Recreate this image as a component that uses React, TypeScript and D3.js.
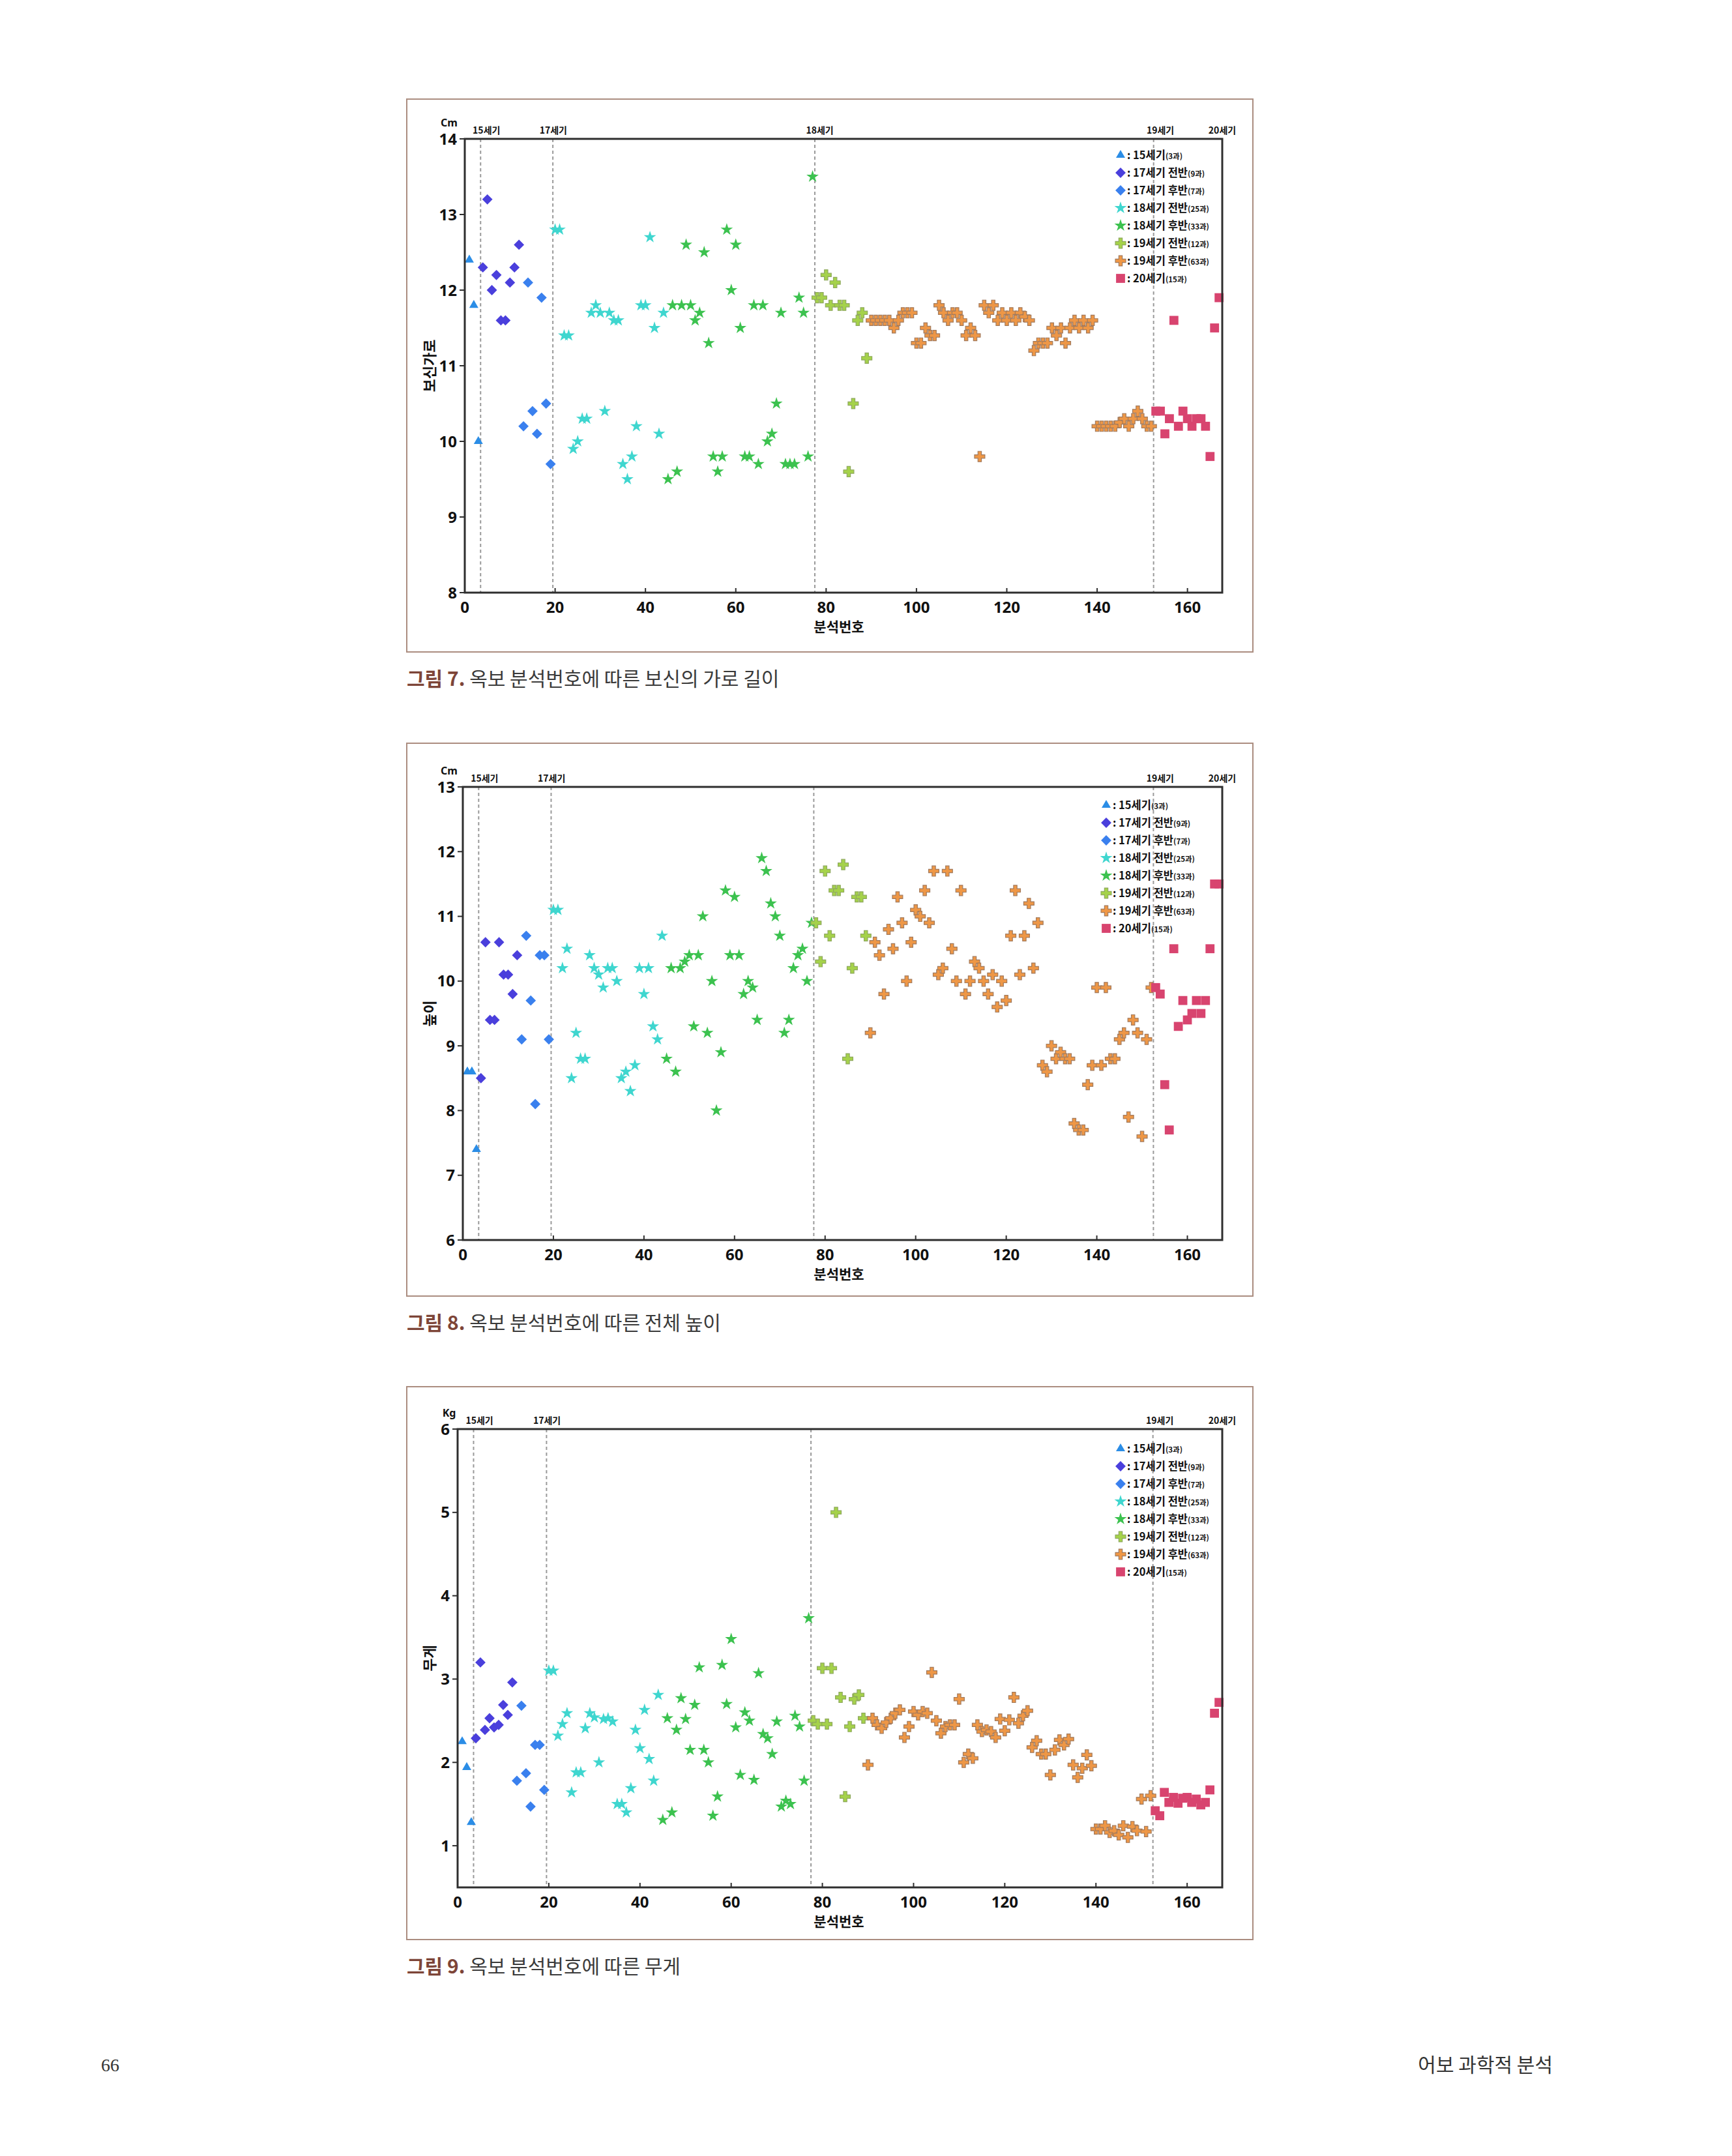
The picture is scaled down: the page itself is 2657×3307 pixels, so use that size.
import React from 'react';
import * as d3 from 'd3';

// period groups, in the order the samples are numbered
const groupLabels = ['15세기', '17세기 전반', '17세기 후반', '18세기 전반', '18세기 후반', '19세기 전반', '19세기 후반', '20세기'];
const groupCounts = [3, 9, 7, 25, 33, 12, 63, 15];
const groupColors = ['#2b8de6', '#4a3fdc', '#3a80ee', '#3fd6cf', '#3cc24f', '#a5d24a', '#ee9746', '#d8446f'];
const groupShapes = ['triangle', 'diamond', 'diamond', 'star', 'star', 'cross', 'cross', 'square'];

const centuryBreaks = [3.5, 19.5, 77.5, 152.5];
const centuryTags = ['15세기', '17세기', '18세기', '19세기', '20세기'];
const centuryTagAt = [4.8, 19.6, 78.6, 154, 167.7];
const xTicks = [0, 20, 40, 60, 80, 100, 120, 140, 160];

// 그림 7 : 보신 가로 (cm)
const widthValues = [
  12.4, 11.8, 10.0,
  12.3, 13.2, 12.0, 12.2, 11.6, 11.6, 12.1, 12.3, 12.6,
  10.2, 12.1, 10.4, 10.1, 11.9, 10.5, 9.7,
  12.8, 12.8, 11.4, 11.4, 9.9, 10.0, 10.3, 10.3, 11.7, 11.8, 11.7, 10.4, 11.7, 11.6, 11.6, 9.7, 9.5, 9.8, 10.2, 11.8, 11.8, 12.7, 11.5, 10.1, 11.7,
  9.5, 11.8, 9.6, 11.8, 12.6, 11.8, 11.6, 11.7, 12.5, 11.3, 9.8, 9.6, 9.8, 12.8, 12.0, 12.6, 11.5, 9.8, 9.8, 11.8, 9.7, 11.8, 10.0, 10.1, 10.5, 11.7, 9.7, 9.7, 9.7, 11.9, 11.7, 9.8, 13.5,
  11.9, 11.9, 12.2, 11.8, 12.1, 11.8, 11.8, 9.6, 10.5, 11.6, 11.7, 11.1,
  11.6, 11.6, 11.6, 11.6, 11.6, 11.5, 11.6, 11.7, 11.7, 11.7, 11.3, 11.3, 11.5, 11.4, 11.4, 11.8, 11.7, 11.6, 11.7, 11.7,
  11.6, 11.4, 11.5, 11.4, 9.8, 11.8, 11.7, 11.8, 11.6, 11.7, 11.6, 11.7, 11.6, 11.7, 11.65, 11.6, 11.2, 11.3, 11.3, 11.3,
  11.5, 11.4, 11.5, 11.3, 11.5, 11.6, 11.5, 11.6, 11.5, 11.6,
  10.2, 10.2, 10.2, 10.2, 10.2, 10.25, 10.3, 10.2, 10.3, 10.4, 10.3, 10.2, 10.2,
  10.4, 10.4, 10.1, 10.3, 11.6, 10.2, 10.4, 10.3, 10.2, 10.3, 10.3, 10.2, 9.8, 11.5, 11.9,
];

// 그림 8 : 전체 높이 (cm)
const heightValues = [
  8.6, 8.6, 7.4,
  8.5, 10.6, 9.4, 9.4, 10.6, 10.1, 10.1, 9.8, 10.4,
  9.1, 10.7, 9.7, 8.1, 10.4, 10.4, 9.1,
  11.1, 11.1, 10.2, 10.5, 8.5, 9.2, 8.8, 8.8, 10.4, 10.2, 10.1, 9.9, 10.2, 10.2, 10.0, 8.5, 8.6, 8.3, 8.7, 10.2, 9.8, 10.2, 9.3, 9.1, 10.7,
  8.8, 10.2, 8.6, 10.2, 10.3, 10.4, 9.3, 10.4, 11.0, 9.2, 10.0, 8.0, 8.9, 11.4, 10.4, 11.3, 10.4, 9.8, 10.0, 9.9, 9.4, 11.9, 11.7, 11.2, 11.0, 10.7, 9.2, 9.4, 10.2, 10.4, 10.5, 10.0, 10.9,
  10.9, 10.3, 11.7, 10.7, 11.4, 11.4, 11.8, 8.8, 10.2, 11.3, 11.3, 10.7,
  9.2, 10.6, 10.4, 9.8, 10.8, 10.5, 11.3, 10.9, 10.0, 10.6, 11.1, 11.0, 11.4, 10.9, 11.7, 10.1, 10.2, 11.7, 10.5, 10.0,
  11.4, 9.8, 10.0, 10.3, 10.2, 10.0, 9.8, 10.1, 9.6, 10.0, 9.7, 10.7, 11.4, 10.1, 10.7, 11.2, 10.2, 10.9, 8.7, 8.6,
  9.0, 8.8, 8.9, 8.8, 8.8, 7.8, 7.7, 7.7, 8.4, 8.7, 9.9, 8.7, 9.9, 8.8, 8.8, 9.1, 9.2, 7.9, 9.4, 9.2, 7.6, 9.1, 9.9,
  9.9, 9.8, 8.4, 7.7, 10.5, 9.3, 9.7, 9.4, 9.5, 9.7, 9.5, 9.7, 10.5, 11.5, 11.5,
];

// 그림 9 : 무게 (kg)
const weightValues = [
  2.25, 1.94, 1.28,
  2.29, 3.2, 2.39, 2.53, 2.42, 2.45, 2.69, 2.57, 2.96,
  1.78, 2.68, 1.87, 1.47, 2.21, 2.21, 1.67,
  3.1, 3.1, 2.32, 2.46, 2.59, 1.64, 1.88, 1.88, 2.41, 2.59, 2.54, 2.0, 2.52, 2.53, 2.49, 1.5, 1.5, 1.4, 1.69, 2.39, 2.17, 2.63, 2.04, 1.78, 2.81,
  1.31, 2.53, 1.4, 2.39, 2.77, 2.52, 2.15, 2.69, 3.14, 2.15, 2.0, 1.36, 1.59, 3.17, 2.7, 3.48, 2.42, 1.85, 2.6, 2.5, 1.79, 3.07, 2.34, 2.29, 2.1, 2.49, 1.47, 1.54, 1.5, 2.56, 2.43, 1.78, 3.73,
  2.5, 2.46, 3.13, 2.46, 3.13, 5.0, 2.78, 1.59, 2.43, 2.76, 2.81, 2.53,
  1.97, 2.53, 2.45, 2.41, 2.48, 2.53, 2.59, 2.63, 2.3, 2.43, 2.61, 2.57, 2.61, 2.59, 3.08, 2.5, 2.35, 2.43, 2.45, 2.45,
  2.76, 2.0, 2.1, 2.05, 2.45, 2.37, 2.39, 2.37, 2.3, 2.52, 2.38, 2.51, 2.78, 2.47, 2.56, 2.62, 2.18, 2.26, 2.1, 2.1,
  1.85, 2.15, 2.27, 2.21, 2.28, 1.97, 1.82, 1.93, 2.09, 1.96,
  1.2, 1.2, 1.24, 1.16, 1.18, 1.13, 1.24, 1.1, 1.23, 1.18, 1.56, 1.17, 1.6,
  1.42, 1.36, 1.64, 1.52, 1.58, 1.51, 1.57, 1.58, 1.52, 1.56, 1.49, 1.52, 1.67, 2.59, 2.72,
];

const widthTicks = [8, 9, 10, 11, 12, 13, 14];
const heightTicks = [6, 7, 8, 9, 10, 11, 12, 13];
const weightTicks = [1, 2, 3, 4, 5, 6];

const KR = '"Noto Sans CJK KR", "Noto Sans", sans-serif';
const NUM = '"Noto Sans", "Liberation Sans", sans-serif';

const diamondType = (d3 as any).symbolDiamond2 || d3.symbolDiamond;
const symbolFor: Record<string, { type: d3.SymbolType; size: number }> = {
  triangle: { type: d3.symbolTriangle, size: 85 },
  diamond: { type: diamondType, size: 160 },
  star: { type: d3.symbolStar, size: 110 },
  cross: { type: d3.symbolCross, size: 140 },
  square: { type: d3.symbolSquare, size: 190 },
};

// group index for every analysis number
const groupOf: number[] = groupCounts.flatMap((n, g) => d3.range(n).map(() => g));

function Marker({ g, cx, cy }: { g: number; cx: number; cy: number }) {
  const s = symbolFor[groupShapes[g]];
  const d = d3.symbol(s.type, s.size)() || '';
  const isCross = groupShapes[g] === 'cross';
  return (
    <path
      d={d}
      transform={`translate(${cx},${cy})`}
      fill={groupColors[g]}
      stroke={isCross ? (g === 6 ? '#a27a5c' : '#8ea85e') : 'none'}
      strokeWidth={isCross ? 1.2 : 0}
    />
  );
}

interface PanelProps {
  frameTop: number;
  left: number;
  top: number;
  bottom: number;
  yDomain: [number, number];
  yTicks: number[];
  values: number[];
  unit: string;
  yTitle: string;
  tagIdx: number[];
  legendX: number;
  legendY: number;
  captionNo: string;
  captionText: string;
}

function Panel(p: PanelProps) {
  const right = 1875;
  const x = d3.scaleLinear().domain([0, 167.7]).range([p.left, right]);
  const y = d3.scaleLinear().domain(p.yDomain).range([p.bottom, p.top]);
  const frameBottom = p.frameTop + 848;

  return (
    <g>
      <rect x={624} y={p.frameTop} width={1298} height={848} fill="none" stroke="#ab8d80" strokeWidth={2} />

      {centuryBreaks.map((b) => (
        <line key={b} x1={x(b)} x2={x(b)} y1={p.top} y2={p.bottom} stroke="#9a9a9a" strokeWidth={2} strokeDasharray="5,4" />
      ))}

      {p.values.map((v, i) => (
        <Marker key={i} g={groupOf[i]} cx={x(i + 1)} cy={y(v)} />
      ))}

      <rect x={p.left} y={p.top} width={right - p.left} height={p.bottom - p.top} fill="none" stroke="#2e2e2e" strokeWidth={3} />

      {p.yTicks.map((t) => (
        <g key={t}>
          <line x1={p.left - 8} x2={p.left} y1={y(t)} y2={y(t)} stroke="#2e2e2e" strokeWidth={2} />
          <text x={p.left - 12} y={y(t)} dy="0.36em" textAnchor="end" fontFamily={NUM} fontWeight={700} fontSize={24} fill="#111">
            {t}
          </text>
        </g>
      ))}

      {xTicks.map((t) => (
        <g key={t}>
          <line x1={x(t)} x2={x(t)} y1={p.bottom} y2={p.bottom - 7} stroke="#2e2e2e" strokeWidth={2} />
          <text x={x(t)} y={p.bottom + 31} textAnchor="middle" fontFamily={NUM} fontWeight={700} fontSize={24} fill="#111">
            {t}
          </text>
        </g>
      ))}

      <text x={689} y={p.top - 19} textAnchor="middle" fontFamily={NUM} fontWeight={700} fontSize={16} fill="#111">
        {p.unit}
      </text>

      {p.tagIdx.map((k) => (
        <text key={k} x={x(centuryTagAt[k])} y={p.top - 8} textAnchor="middle" fontFamily={KR} fontWeight={700} fontSize={14} fill="#111">
          {centuryTags[k]}
        </text>
      ))}

      <text
        transform={`translate(659,${(p.top + p.bottom) / 2}) rotate(-90)`}
        textAnchor="middle"
        dy="0.35em"
        fontFamily={KR}
        fontWeight={700}
        fontSize={22}
        fill="#111"
      >
        {p.yTitle}
      </text>
      <text x={1287} y={p.bottom + 60} textAnchor="middle" fontFamily={KR} fontWeight={700} fontSize={21} fill="#111">
        분석번호
      </text>

      {groupLabels.map((label, g) => {
        const ly = p.legendY + g * 27;
        return (
          <g key={label}>
            <Marker g={g} cx={p.legendX} cy={ly} />
            <text x={p.legendX + 10} y={ly} dy="0.36em" fontFamily={KR} fontWeight={700} fontSize={16.5} fill="#111">
              {`: ${label}`}
              <tspan fontSize={11.5}>{`(${groupCounts[g]}과)`}</tspan>
            </text>
          </g>
        );
      })}

      <text x={624} y={frameBottom + 52} fontFamily={KR} fontSize={30}>
        <tspan fill="#7d4538" fontWeight={700}>{p.captionNo}</tspan>
        <tspan fill="#3a3a3a" fontWeight={400}>{` ${p.captionText}`}</tspan>
      </text>
    </g>
  );
}

export default function App() {
  return (
    <div style={{ position: 'absolute', left: 0, top: 0 }}>
      <svg width={2657} height={3307} viewBox="0 0 2657 3307" style={{ display: 'block', background: '#fff' }}>
        <rect width={2657} height={3307} fill="#fff" />
        <Panel
          frameTop={152}
          left={713}
          top={213}
          bottom={909}
          yDomain={[8, 14]}
          yTicks={widthTicks}
          values={widthValues}
          unit="Cm"
          yTitle="보신가로"
          tagIdx={[0, 1, 2, 3, 4]}
          legendX={1719}
          legendY={238}
          captionNo="그림 7."
          captionText="옥보 분석번호에 따른 보신의 가로 길이"
        />
        <Panel
          frameTop={1140}
          left={710}
          top={1207}
          bottom={1902}
          yDomain={[6, 13]}
          yTicks={heightTicks}
          values={heightValues}
          unit="Cm"
          yTitle="높이"
          tagIdx={[0, 1, 3, 4]}
          legendX={1697}
          legendY={1235}
          captionNo="그림 8."
          captionText="옥보 분석번호에 따른 전체 높이"
        />
        <Panel
          frameTop={2127}
          left={702}
          top={2192}
          bottom={2895}
          yDomain={[0.5, 6]}
          yTicks={weightTicks}
          values={weightValues}
          unit="Kg"
          yTitle="무게"
          tagIdx={[0, 1, 3, 4]}
          legendX={1719}
          legendY={2222}
          captionNo="그림 9."
          captionText="옥보 분석번호에 따른 무게"
        />
        <text x={169} y={3177} textAnchor="middle" fontFamily='"Liberation Serif", "DejaVu Serif", serif' fontSize={28} fill="#333">
          66
        </text>
        <text x={2382} y={3178} textAnchor="end" fontFamily={KR} fontSize={30} fill="#333">
          어보 과학적 분석
        </text>
      </svg>
    </div>
  );
}
